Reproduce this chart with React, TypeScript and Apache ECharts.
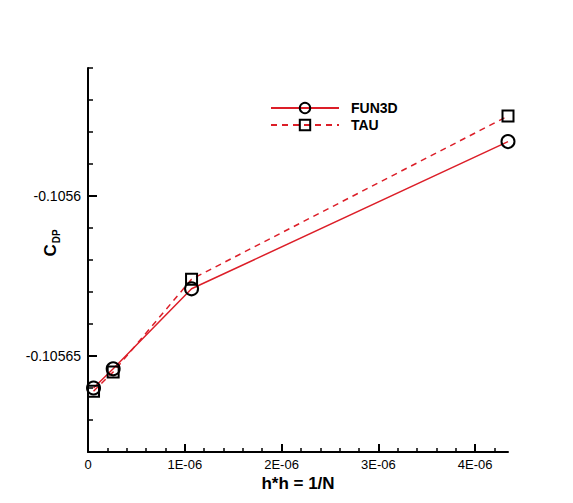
import React, { useEffect, useRef } from "react";
import * as echarts from "echarts";

const xValues = [0.057e-6, 0.26e-6, 1.07e-6, 4.34e-6];
const fun3d = [-0.10566, -0.105654, -0.105629, -0.105583];
const tau = [-0.105661, -0.105655, -0.105626, -0.105575];

const xMajorTicks = [0, 1e-6, 2e-6, 3e-6, 4e-6];
const xMinorTicks = [0.2e-6, 0.4e-6, 0.6e-6, 0.8e-6, 1.2e-6, 1.4e-6, 1.6e-6, 1.8e-6, 2.2e-6, 2.4e-6, 2.6e-6, 2.8e-6, 3.2e-6, 3.4e-6, 3.6e-6, 3.8e-6, 4.2e-6];
const xLabels = ["0", "1E-06", "2E-06", "3E-06", "4E-06"];
const yMajorTicks = [-0.1056, -0.10565];
const yMinorTicks = [-0.10567, -0.10566, -0.10564, -0.10563, -0.10562, -0.10561, -0.10559, -0.10558, -0.10557, -0.10556];
const yLabels = ["-0.1056", "-0.10565"];

const FONT = "'Liberation Sans', Arial, sans-serif";
const RED = "#dc1e28";

export default function App() {
  const ref = useRef<HTMLDivElement>(null);
  useEffect(() => {
    if (!ref.current) return;
    const chart = echarts.init(ref.current, null, { renderer: "svg" });
    const xMin = 0, xMax = 4.34e-6, yMin = -0.10568, yMax = -0.10556;
    const axisLine = { show: true, lineStyle: { color: "#000", width: 2 } };
    chart.setOption({
      animation: false,
      backgroundColor: "#fff",
      textStyle: { fontFamily: FONT },
      grid: { left: 88, top: 68, right: 65, bottom: 51 },
      legend: {
        orient: "vertical",
        left: 265,
        top: 96,
        itemWidth: 68,
        itemHeight: 13,
        itemGap: 3,
        textStyle: { fontFamily: FONT, fontWeight: "bold", fontSize: 14, color: "#000", padding: [0, 0, 0, 7] },
        data: ["FUN3D", "TAU"],
      },
      xAxis: [
        {
          type: "value", min: xMin, max: xMax, position: "bottom",
          axisLine,
          splitLine: { show: false },
          axisTick: { show: true, inside: true, length: 8, lineStyle: { color: "#000", width: 2 }, customValues: xMajorTicks },
          axisLabel: {
            customValues: xMajorTicks, margin: 6, color: "#000", fontSize: 13, lineHeight: 13, fontFamily: FONT,
            formatter: (v: number) => xLabels[xMajorTicks.findIndex((t) => Math.abs(t - v) < 1e-12)] ?? "",
          },
        },
        {
          type: "value", min: xMin, max: xMax, position: "bottom",
          axisLine: { show: false },
          splitLine: { show: false },
          axisTick: { show: true, inside: true, length: 4, lineStyle: { color: "#000", width: 1.5 }, customValues: xMinorTicks },
          axisLabel: { show: false },
        },
      ],
      yAxis: [
        {
          type: "value", min: yMin, max: yMax, position: "left",
          axisLine,
          splitLine: { show: false },
          axisTick: { show: true, inside: true, length: 9, lineStyle: { color: "#000", width: 2 }, customValues: yMajorTicks },
          axisLabel: {
            customValues: yMajorTicks, margin: 7, color: "#000", fontSize: 14, fontFamily: FONT,
            formatter: (v: number) => yLabels[yMajorTicks.findIndex((t) => Math.abs(t - v) < 1e-9)] ?? "",
          },
        },
        {
          type: "value", min: yMin, max: yMax, position: "left",
          axisLine: { show: false },
          splitLine: { show: false },
          axisTick: { show: true, inside: true, length: 5, lineStyle: { color: "#000", width: 1.5 }, customValues: yMinorTicks },
          axisLabel: { show: false },
        },
      ],
      graphic: [
        {
          type: "text",
          x: 298,
          y: 483,
          style: { text: "h*h = 1/N", font: `bold 17px ${FONT}`, fill: "#000", align: "center", verticalAlign: "middle" },
        },
        {
          type: "text",
          x: 50,
          y: 243,
          rotation: Math.PI / 2,
          style: {
            text: "{a|C}{b|DP}",
            align: "center",
            verticalAlign: "middle",
            rich: {
              a: { fontFamily: FONT, fontWeight: "bold", fontSize: 17, color: "#000", lineHeight: 22, verticalAlign: "middle" },
              b: { fontFamily: FONT, fontWeight: "bold", fontSize: 10, color: "#000", lineHeight: 22, verticalAlign: "bottom", padding: [8, 0, 0, 1] },
            },
          },
        },
      ],
      series: [
        {
          name: "FUN3D",
          type: "line",
          xAxisIndex: 0,
          yAxisIndex: 0,
          clip: false,
          data: xValues.map((x, i) => [x, fun3d[i]]),
          symbol: "circle",
          symbolSize: 13,
          showAllSymbol: true,
          lineStyle: { color: RED, width: 1.5, type: "solid" },
          itemStyle: { color: "transparent", borderColor: "#000", borderWidth: 2 },
        },
        {
          name: "TAU",
          type: "line",
          xAxisIndex: 0,
          yAxisIndex: 0,
          clip: false,
          data: xValues.map((x, i) => [x, tau[i]]),
          symbol: "rect",
          symbolSize: 11,
          showAllSymbol: true,
          lineStyle: { color: RED, width: 1.5, type: [6, 5] },
          itemStyle: { color: "transparent", borderColor: "#000", borderWidth: 2 },
        },
      ],
    });
    return () => chart.dispose();
  }, []);
  return <div ref={ref} style={{ position: "absolute", left: 0, top: 0, width: 573, height: 503 }} />;
}
